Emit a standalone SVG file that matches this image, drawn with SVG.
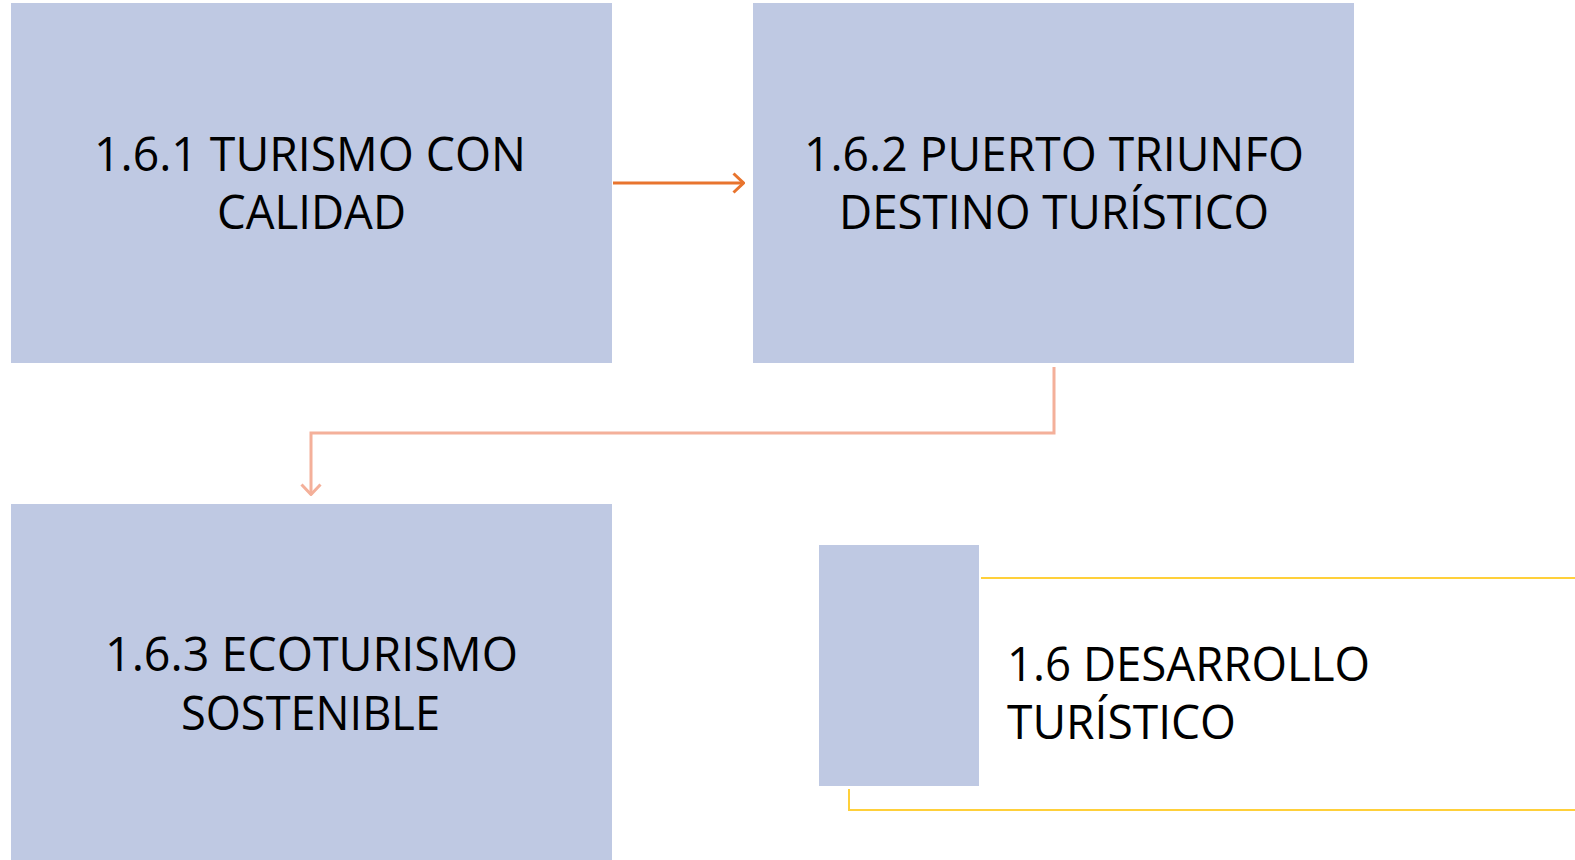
<svg xmlns="http://www.w3.org/2000/svg" width="1575" height="860" viewBox="0 0 1575 860">
<style>
.box{fill:#BFC9E3}
.t{font-family:"Open Sans","Noto Sans","Liberation Sans",sans-serif;font-size:48px;fill:#000}
</style>
<defs>
<marker id="a1" viewBox="0 0 13 22" refX="12" refY="11" markerWidth="13" markerHeight="22" markerUnits="userSpaceOnUse" orient="auto">
<path d="M1.5 1.5 L11.5 11 L1.5 20.5" fill="none" stroke="#E8742E" stroke-width="3"/>
</marker>
<marker id="a2" viewBox="0 0 13 22" refX="12" refY="11" markerWidth="13" markerHeight="22" markerUnits="userSpaceOnUse" orient="auto">
<path d="M1.5 1.5 L11.5 11 L1.5 20.5" fill="none" stroke="#F4B09A" stroke-width="3"/>
</marker>
</defs>
<rect width="1575" height="860" fill="#fff"/>
<g id="connectors">
<line x1="613" y1="183" x2="744" y2="183" stroke="#E8742E" stroke-width="3" marker-end="url(#a1)"/>
<polyline points="1054,367 1054,433 311,433 311,495" fill="none" stroke="#F4B09A" stroke-width="3" marker-end="url(#a2)"/>
</g>
<g id="node1">
<rect class="box" x="11" y="3" width="601" height="360"/>
<text class="t" x="94" y="171" textLength="432" lengthAdjust="spacingAndGlyphs">1.6.1 TURISMO CON</text>
<text class="t" x="217" y="229" textLength="189" lengthAdjust="spacingAndGlyphs">CALIDAD</text>
</g>
<g id="node2">
<rect class="box" x="753" y="3" width="601" height="360"/>
<text class="t" x="804" y="171" textLength="500" lengthAdjust="spacingAndGlyphs">1.6.2 PUERTO TRIUNFO</text>
<text class="t" x="839" y="229" textLength="430" lengthAdjust="spacingAndGlyphs">DESTINO TURÍSTICO</text>
</g>
<g id="node3">
<rect class="box" x="11" y="504" width="601" height="356"/>
<text class="t" x="105" y="671" textLength="413" lengthAdjust="spacingAndGlyphs">1.6.3 ECOTURISMO</text>
<text class="t" x="181" y="730" textLength="259" lengthAdjust="spacingAndGlyphs">SOSTENIBLE</text>
</g>
<g id="node4">
<polyline points="981,578 1575,578" fill="none" stroke="#FFD03A" stroke-width="2"/>
<polyline points="849,789 849,810 1575,810" fill="none" stroke="#FFD03A" stroke-width="2"/>
<rect class="box" x="819" y="545" width="160" height="241"/>
<text class="t" x="1007" y="681" textLength="363" lengthAdjust="spacingAndGlyphs">1.6 DESARROLLO</text>
<text class="t" x="1007" y="739" textLength="229" lengthAdjust="spacingAndGlyphs">TURÍSTICO</text>
</g>
</svg>
